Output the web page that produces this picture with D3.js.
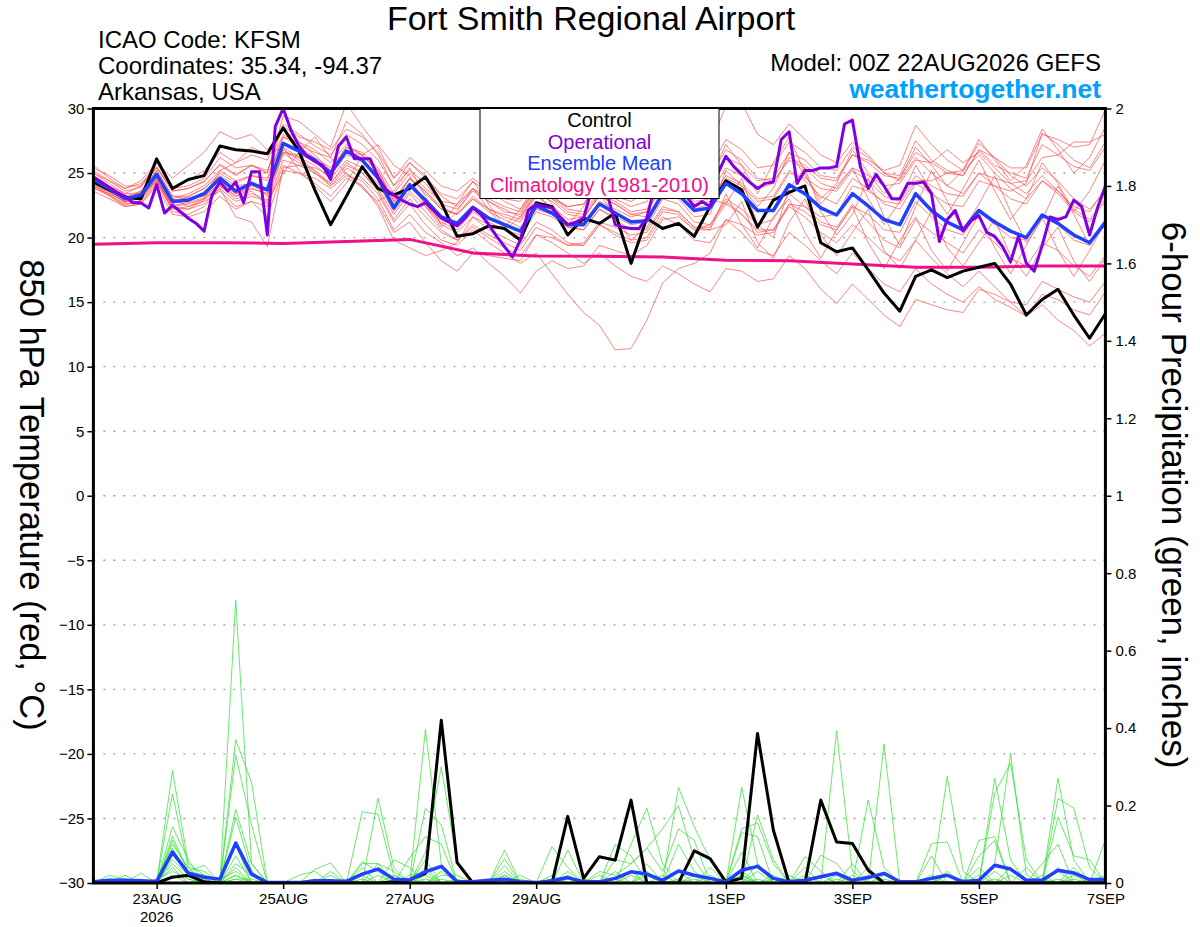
<!DOCTYPE html>
<html><head><meta charset="utf-8">
<script src="https://cdn.jsdelivr.net/npm/d3@7"></script>
<style>
body{margin:0;background:#fff;}
svg{display:block;font-family:"Liberation Sans",Arial,Helvetica,sans-serif;}
</style></head><body>
<svg id="chart" width="1200" height="927"></svg>
<script>
// ---------------- DATA ----------------
const titleText = "Fort Smith Regional Airport";
const infoLeft = ["ICAO Code: KFSM", "Coordinates: 35.34, -94.37", "Arkansas, USA"];
const modelText = "Model: 00Z 22AUG2026 GEFS";
const siteText = "weathertogether.net";
const legendItems = ["Control", "Operational", "Ensemble Mean", "Climatology (1981-2010)"];
const startTime = "2026-08-22T00:00:00Z";
const endTime = "2026-09-07T00:00:00Z";

const tempTicks = [30,25,20,15,10,5,0,-5,-10,-15,-20,-25,-30];
const gridTemps = [25,20,15,10,5,0,-5,-10,-15,-20,-25];
const precipTicks = [0,0.2,0.4,0.6,0.8,1,1.2,1.4,1.6,1.8,2];
const precipTickLabels = ["0","0.2","0.4","0.6","0.8","1","1.2","1.4","1.6","1.8","2"];
const dateTicks = ["2026-08-23","2026-08-25","2026-08-27","2026-08-29","2026-09-01","2026-09-03","2026-09-05","2026-09-07"];
const dateLabels = ["23AUG","25AUG","27AUG","29AUG","1SEP","3SEP","5SEP","7SEP"];
const yearLabel = "2026";

// 6-hourly control (black) 850 hPa temperature
const controlTemp = [24.3,23.7,23.1,23.0,26.1,23.8,24.5,24.8, 27.1,26.8,26.7,26.5,28.5,26.7,23.7,21.0,
 23.2,25.5,23.8,23.3,23.8,24.7,22.7,20.1, 20.3,20.9,20.7,19.8,22.7,22.4,20.2,21.5,
 21.1,21.9,18.0,21.5,20.7,21.1,20.1,22.4, 24.4,23.7,20.8,22.9,23.5,24.0,19.6,18.9,
 19.2,17.5,15.7,14.3,17.0,17.5,16.9,17.4, 17.7,18.0,16.4,14.0,15.2,16.0,14.0,12.2, 14.1];
// 6-hourly ensemble mean (blue)
const meanTemp = [24.5,23.8,23.0,23.3,24.9,22.8,22.9,23.4, 24.6,23.6,24.2,23.7,27.3,26.7,26.0,25.0,
 26.7,26.0,24.6,22.3,24.1,22.9,21.6,21.1, 22.35,21.5,21.0,20.5,22.45,21.9,21.0,21.0,
 22.6,21.9,21.2,21.3,23.4,23.3,22.1,22.3, 24.2,23.4,22.1,22.1,24.1,23.4,22.3,21.75,
 23.4,22.45,21.4,21.0,23.4,22.1,21.2,20.6, 22.1,21.2,20.5,20.0,21.75,21.1,20.2,19.6, 21.2];
// 3-hourly operational (purple)
const operTemp = [24.7,24.3,23.9,23.5,23.2,22.7,22.7,22.3, 24.1,21.9,22.5,22.0,21.5,21.1,20.5,23.3,
 24.3,23.6,24.3,22.7,25.1,25.1,20.2,28.6, 30.0,28.3,27.1,26.3,25.9,25.6,24.5,27.1,
 27.8,26.1,26.1,26.1,24.7,23.7,23.3,22.9, 22.6,22.4,22.7,22.1,21.5,21.2,20.9,21.5,
 22.3,21.8,21.0,20.1,19.3,18.5,19.8,22.1, 22.6,22.4,22.3,21.6,21.0,21.2,21.5,23.7,
 24.8,23.4,21.0,20.8,20.7,20.7,21.5,24.0, 25.2,24.6,23.8,23.2,22.4,22.8,22.4,25.0,
 26.3,25.5,24.9,24.3,23.8,24.2,24.3,27.6, 28.2,24.2,25.2,25.2,25.4,25.4,25.5,28.8,
 29.1,25.5,23.8,24.9,24.0,23.0,23.0,24.2, 24.2,24.3,23.4,19.7,21.4,22.1,20.5,21.3,
 21.7,20.4,20.1,19.3,18.1,20.1,18.0,17.4, 19.4,21.6,21.4,21.6,22.9,22.4,20.2,22.3, 24.0];
// daily climatology (magenta)
const climTemp = [19.48,19.6,19.6,19.55,19.7,19.86,18.8,18.57,18.55,18.5,18.25,18.2,17.95,17.7,17.7,17.8,17.8];

// 6-hourly ensemble members (thin red)
const memberTemps = [
 [25.2,24.4,23.6,23.9,25.5,23.6,23.8,24.3, 25.7,24.9,25.6,25.0,28.8,28.0,27.1,26.4, 28.0,27.2,26.0,24.0,25.8,24.6,23.4,23.0, 24.3,23.6,23.0,22.8,24.6,24.2,23.4,23.6, 25.1,24.6,24.0,24.2,26.4,26.0,25.0,25.4, 27.6,26.8,25.4,25.6,27.4,26.6,25.4,25.2, 27.0,26.2,25.0,24.8,27.5,26.0,25.2,24.8, 26.8,25.6,25.0,24.6,27.2,26.4,25.5,25.2, 27.0],
 [24.0,23.3,22.6,22.8,24.3,22.3,22.2,22.9, 24.0,23.0,23.4,22.9,26.5,25.8,25.2,24.2, 25.8,25.0,23.6,21.4,23.0,21.6,20.4,19.8, 21.0,20.2,19.6,19.0,20.8,20.2,19.4,19.4, 21.0,20.2,19.6,19.8,21.6,21.0,19.8,19.6, 21.4,20.4,19.0,18.6,20.4,19.4,18.2,17.2, 18.8,17.6,16.4,15.8,17.6,16.4,15.6,15.0, 16.2,15.2,14.6,13.9,14.8,13.6,12.8,11.6, 12.6],
 [24.8,24.0,23.2,23.0,24.6,22.4,22.6,23.0, 24.0,23.2,23.6,22.6,26.0,25.6,25.0,24.0, 25.4,24.6,23.4,21.2,22.6,21.0,19.8,19.4, 20.6,19.6,18.8,18.0,18.8,17.2,15.6,14.2, 13.2,11.3,11.4,13.6,16.5,17.6,18.0,18.8, 21.4,21.0,20.2,20.4,22.6,22.0,21.0,20.6, 22.4,21.8,20.6,20.4,22.8,21.6,20.6,20.2, 22.0,21.0,20.0,19.8,21.8,21.0,19.8,19.4, 21.0],
 [23.8,23.4,22.8,23.6,25.0,23.0,22.4,22.8, 23.6,22.4,22.8,21.6,25.2,25.0,24.6,23.8, 24.8,24.4,23.0,20.6,21.8,20.4,19.6,18.6, 19.2,18.0,17.0,15.7,17.4,18.2,17.6,17.8, 19.4,19.0,18.6,19.4,21.4,21.6,20.6,21.0, 23.0,22.2,21.0,21.4,23.4,22.4,21.2,20.8, 22.6,21.2,19.8,19.2,21.4,20.4,19.6,18.8, 20.6,19.6,18.4,17.8,19.6,19.0,17.8,17.0, 18.6],
 [24.6,23.6,22.8,23.2,24.4,22.6,23.2,23.8, 24.8,24.0,24.2,23.2,26.8,26.0,25.0,24.2, 25.6,25.0,23.8,21.8,23.4,22.0,20.6,19.8, 20.8,20.0,19.2,18.6,20.2,19.6,18.8,18.0, 18.8,17.8,17.0,16.6,17.8,17.2,16.4,15.8, 17.6,17.4,16.6,16.8,18.6,17.6,16.0,14.9, 16.4,15.2,14.0,13.1,15.2,14.8,14.4,14.2, 16.0,15.6,15.0,14.8,16.6,16.0,15.4,15.0, 16.6],
 [25.6,24.6,23.8,24.4,25.8,23.8,24.0,24.6, 26.2,25.4,25.6,25.0,29.4,29.0,28.0,27.0, 30.4,28.6,27.0,24.6,25.8,24.8,23.2,22.4, 23.8,22.8,22.0,21.8,23.8,23.2,22.4,22.6, 24.4,24.0,23.6,24.4,26.6,27.0,26.4,27.2, 30.2,30.4,28.0,27.2,28.8,27.6,26.4,25.8, 27.4,26.4,25.0,24.4,26.2,25.0,24.0,23.4, 25.0,24.0,23.0,22.6,24.4,23.6,22.4,22.0, 23.8],
 [25.0,24.2,23.4,24.0,25.8,24.6,25.6,26.6, 28.2,27.6,28.0,26.8,28.4,27.4,26.4,25.2, 27.0,26.6,25.4,23.4,25.0,23.8,22.8,22.6, 23.8,23.0,22.4,22.0,23.8,23.0,22.0,21.8, 23.4,22.8,22.0,22.2,24.4,24.0,23.0,23.4, 25.4,24.8,23.8,24.2,26.2,25.6,24.6,24.4, 26.4,26.0,25.2,25.6,28.7,27.2,26.0,25.2, 26.4,25.0,23.8,23.0,24.4,23.4,22.0,21.2, 22.8],
 [24.2,23.4,22.8,23.0,24.6,22.0,21.8,22.4, 23.8,21.6,21.2,19.3,25.4,25.6,25.4,24.8, 26.4,26.0,24.8,22.6,24.6,23.6,22.2,21.8, 23.2,22.2,21.6,21.2,23.2,22.4,21.4,21.6, 23.2,22.6,21.8,21.6,23.6,23.0,21.6,21.8, 25.2,24.0,22.4,23.8,26.6,24.8,23.0,24.2, 26.8,25.0,23.4,24.6,27.0,25.6,24.0,25.2, 27.6,26.0,24.4,25.6,28.4,26.8,25.0,26.2, 28.6],
 [24.4,23.8,23.2,23.6,25.2,23.2,23.0,23.2, 24.2,23.4,24.0,23.6,27.0,26.2,25.2,24.0, 25.0,24.0,22.4,19.8,19.2,18.6,19.0,19.6, 21.6,21.0,20.6,20.2,22.2,21.8,21.0,21.2, 22.8,22.2,21.6,22.0,24.0,23.8,22.8,23.0, 22.6,24.6,21.0,20.0,23.8,25.4,22.0,20.2, 21.8,24.6,21.6,19.4,22.4,25.2,22.8,20.6, 22.6,24.8,22.0,19.6,21.4,24.0,21.8,19.4, 21.4],
 [24.6,24.0,23.4,23.4,24.8,23.0,23.4,24.0, 25.2,24.4,24.8,24.4,27.8,27.4,26.8,25.8, 27.2,26.4,25.2,23.0,24.6,23.4,22.2,21.8, 23.0,22.2,21.8,21.4,23.4,23.0,22.4,22.6, 24.2,23.8,23.4,23.8,25.8,25.4,24.2,24.4, 26.2,25.6,24.4,24.6,26.6,26.0,24.8,24.6, 26.4,25.8,24.8,24.6,26.6,25.8,25.0,24.8, 26.8,26.2,25.4,25.4,28.0,27.6,27.0,27.2, 29.9],
 [23.9,23.2,22.4,22.6,24.2,22.2,22.4,23.0, 25.2,25.8,27.0,26.4,27.0,25.2,24.0,22.8, 24.2,26.4,27.2,25.6,24.8,22.4,20.8,22.0, 23.8,22.2,20.6,21.6,23.6,22.0,20.2,21.4, 23.4,21.6,19.8,20.8,23.0,22.6,21.2,21.0, 22.8,21.8,20.4,20.6,22.6,22.4,21.6,21.8, 24.0,23.6,22.8,22.6,24.4,24.4,25.0,25.2, 27.3,26.2,24.8,24.0,25.4,24.4,23.0,22.2, 23.6],
 [24.3,23.5,22.7,23.1,24.7,22.9,23.1,23.3, 24.4,23.4,23.8,23.4,26.6,26.2,25.6,24.6, 26.0,25.4,24.2,22.0,23.6,22.4,21.2,20.6, 22.0,21.2,20.6,20.0,22.0,21.6,20.8,20.6, 22.2,21.4,20.6,20.6,22.4,22.0,20.8,20.8, 22.6,21.8,20.6,20.6,22.4,21.6,20.4,19.6, 21.0,20.0,18.8,18.2,19.8,18.4,17.2,16.2, 17.4,16.2,15.0,13.9,15.6,15.2,14.4,14.0, 15.8],
 [25.0,24.4,23.8,24.2,25.4,23.6,23.8,24.4, 25.6,24.8,25.6,25.2,28.0,27.2,26.6,26.2, 29.0,28.0,26.4,24.0,25.2,24.2,22.6,22.2, 23.6,22.8,22.2,21.6,23.4,22.8,21.8,21.6, 23.2,22.6,21.8,22.0,24.0,23.8,22.6,22.8, 24.8,24.2,23.0,23.2,25.2,24.4,23.2,22.6, 24.6,23.8,22.6,22.2,24.2,23.4,22.6,22.4, 24.4,24.0,23.6,24.2,28.1,27.2,26.0,25.4, 27.4],
 [24.0,23.6,23.0,23.2,24.4,22.4,22.2,22.6, 23.8,22.8,23.2,22.8,25.0,26.6,27.8,26.2, 25.0,23.8,22.8,23.6,25.4,23.2,21.0,22.6, 24.4,22.6,20.8,22.2,24.2,22.6,21.0,22.4, 24.6,23.2,22.8,23.6,26.2,26.6,25.0,24.6, 27.2,25.6,23.4,25.8,27.8,25.0,22.6,24.0, 25.4,23.0,21.0,22.8,25.6,23.6,21.8,23.8, 26.0,23.6,21.4,23.0,25.8,24.2,22.0,23.6, 26.0],
 [24.7,23.9,23.1,23.5,25.2,23.2,23.2,23.8, 25.0,24.2,24.8,24.6,27.8,27.0,26.2,25.4, 27.0,26.4,25.0,22.8,24.6,23.6,22.4,21.8, 23.0,22.0,21.4,20.8,22.6,21.8,20.8,20.6, 22.2,21.6,21.0,21.2,23.2,23.2,22.2,22.6, 24.6,24.0,22.8,23.0,25.0,24.6,23.8,23.6, 25.2,24.4,23.2,22.8,24.8,24.0,23.4,23.2, 25.0,24.6,24.2,24.4,26.2,26.4,27.4,27.4, 28.0],
 [23.6,23.0,22.4,22.6,24.0,21.8,21.6,22.0, 23.2,22.2,22.8,22.4,25.6,25.0,24.2,23.2, 24.6,24.0,22.6,20.4,21.2,19.6,18.2,17.4, 18.8,18.6,18.4,18.2,20.2,20.0,19.4,19.6, 21.2,20.8,20.2,20.4,22.2,22.0,20.8,20.6, 23.4,21.0,19.2,21.6,23.0,20.4,18.4,20.6, 22.4,19.6,17.6,19.8,21.6,19.0,17.4,19.6, 21.8,19.2,17.2,19.4,21.6,19.0,17.0,19.0, 21.2],
 [25.4,24.8,24.0,24.0,25.4,23.8,24.4,25.2, 26.6,25.8,26.4,26.0,28.6,27.8,27.4,26.8, 28.4,27.8,26.6,24.6,26.2,25.2,24.0,23.6, 24.6,23.6,22.8,22.2,23.8,23.2,22.2,22.0, 23.6,23.0,22.4,22.8,25.0,25.2,24.4,24.8, 26.8,26.0,24.6,24.4,26.0,25.4,24.2,23.8, 25.4,24.8,24.0,24.2,26.0,25.8,26.8,25.8, 26.6,25.4,24.2,23.4,24.8,23.6,22.2,21.4, 23.0],
 [24.1,23.3,22.5,22.9,24.5,22.5,22.7,23.1, 24.2,23.2,23.8,23.4,26.6,26.4,26.0,25.2, 26.6,26.4,25.2,22.8,24.0,22.6,21.0,20.4, 21.6,20.6,20.0,19.4,21.2,20.6,19.6,19.4, 21.0,20.4,19.8,20.0,22.0,21.8,20.6,20.6, 21.0,22.8,19.6,18.4,21.2,23.0,20.2,18.6, 20.4,22.2,19.0,17.6,19.8,22.0,19.2,17.8, 19.6,21.4,18.6,17.0,19.2,20.8,18.2,16.6, 18.4]
];

// 6-hourly precipitation (inches)
const controlPrecip = [0,0,0,0,0,0.015,0.02,0.003, 0,0,0,0,0,0,0,0,
 0,0,0,0.003,0.008,0.025,0.42,0.053, 0,0,0,0,0,0,0.172,0.012,
 0.068,0.059,0.214,0,0,0,0.083,0.063, 0.003,0.012,0.386,0.137,0,0,0.214,0.106,
 0.102,0.033,0,0,0,0,0,0, 0,0,0,0,0,0,0,0, 0];
const meanPrecip = [0.003,0.007,0.007,0.006,0.004,0.080,0.025,0.015, 0.010,0.103,0.023,0.001,0.001,0.001,0.006,0.006,
 0.004,0.023,0.036,0.010,0.008,0.029,0.043,0.003, 0.003,0.007,0.010,0.003,0.001,0.006,0.014,0.003,
 0.003,0.012,0.029,0.023,0.007,0.031,0.020,0.012, 0.003,0.033,0.043,0.012,0.003,0.007,0.016,0.025,
 0.007,0.014,0.025,0.003,0.003,0.012,0.020,0.003, 0.007,0.046,0.036,0.007,0.007,0.033,0.026,0.009, 0.009];
const memberPrecips = [
 [0,0,.02,0,0,.29,.05,.02, 0,.73,.05,0,0,0,0,0, 0,.05,.05,0,0,.397,.05,0, 0,0,0,0,0,0,.085,0, 0,0,0,.05,0,0,0,0, 0,.247,.05,0,0,0,0,.393, .03,0,0,0,0,0,0,0, 0,.05,.335,.02,0,0,0,0, .01],
 [0,0,0,0,0,.23,.04,0, 0,.37,.26,0,0,0,0,0, 0,0,.219,.04,0,.08,.30,.05, 0,0,.085,0,0,0,0,0, 0,0,.10,.193,.05,0,0,0, 0,0,.176,.06,0,0,0,0, 0,0,.359,0,0,0,.275,.03, 0,0,0,0,0,.27,.06,0, 0],
 [0,0,0,.026,0,.145,.06,0, 0,.33,.15,0,0,0,0,0, 0,.184,.178,.02,0,.193,.15,0, 0,0,0,0,0,.094,.04,0, 0,0,0,0,0,.247,.145,.06, 0,0,0,0,0,0,.072,.05, 0,.214,.04,0,0,0,0,0, 0,.27,.06,0,0,.218,.193,.04, 0],
 [0,.02,.01,0,0,.12,.03,.046, 0,.19,.05,0,0,0,.035,.052, 0,0,0,0,.065,.12,.10,0, 0,0,.063,0,0,0,0,0, 0,.10,.07,0,0,0,0,0, 0,.14,.155,.05,0,0,0,0, 0,0,0,0,0,.102,.106,0, 0,.232,.31,.06,0,0,0,0, .111],
 [0,0,0,0,0,.11,.03,0, 0,.17,.03,0,0,0,0,.03, 0,.055,.03,0,0,.06,0,0, 0,0,.045,0,0,0,.03,0, 0,.06,.05,.09,.03,.14,.11,0, 0,.13,.12,0,0,.068,.03,0, 0,0,0,0,0,.07,0,0, .11,.12,0,0,0,.17,.07,.06, 0],
 [0,0,0,0,0,.10,.04,.03, 0,.10,0,0,0,0,0,0, 0,0,0,.06,.04,0,0,0, 0,0,.03,0,0,.02,0,0, .03,.02,.05,.09,.14,.20,.06,0, 0,.08,0,0,0,.04,0,0, 0,.04,0,0,0,0,0,0, .04,0,0,0,.05,.10,0,0, 0],
 [0,0,0,0,0,.09,.02,0, 0,.07,0,0,0,.02,.03,0, 0,.04,0,0,0,0,.02,.02, 0,0,.02,0,0,0,.02,0, 0,0,0,0,0,.10,.03,0, 0,0,.05,0,.02,0,0,0, .05,0,0,0,0,.02,0,0, .07,.11,0,0,.02,0,.04,0, 0],
 [0,0,.01,0,0,.08,.02,.02, 0,.05,.02,0,0,0,0,0, .01,0,.05,.03,0,.04,0,0, 0,0,0,.02,0,.01,0,.01, 0,0,.03,0,0,0,0,.04, 0,.03,0,.02,0,0,0,0, 0,0,.02,0,0,0,.03,0, 0,0,.04,0,0,.03,0,.01, 0],
 [0,0,0,0,0,.07,.03,.02, .01,.03,0,0,0,0,0,.02, 0,0,0,0,.02,.03,0,0, 0,0,.01,0,0,0,0,0, .02,0,0,.03,0,0,.02,0, 0,.02,0,0,0,.02,0,.02, 0,0,0,0,0,0,0,0, 0,.03,0,.04,0,0,.02,0, 0],
 [0,0,0,0,0,.06,.02,0, 0,.02,0,0,0,0,0,0, 0,.02,0,0,0,0,.03,0, 0,0,0,.01,0,0,0,0, 0,.03,0,0,.02,0,0,0, 0,0,.03,0,0,0,.02,0, 0,.02,0,0,0,0,.02,0, .02,0,0,0,0,.04,0,0, 0],
 [0,0,0,.01,0,.05,.01,0, 0,.02,0,0,0,0,0,0, 0,0,.02,0,0,.02,0,0, 0,0,0,0,0,.01,0,0, 0,0,.02,0,0,.03,0,0, 0,.02,0,.01,0,0,0,0, .02,0,0,0,0,0,0,0, 0,0,.02,0,0,0,0,0, .02],
 [0,0,0,0,0,.04,0,0, 0,.01,.01,0,0,0,.01,0, 0,0,0,0,.01,0,.01,0, 0,0,0,0,0,0,.01,0, 0,0,0,.02,0,0,.01,0, 0,0,.01,0,0,0,0,0, 0,0,.01,0,0,0,0,0, 0,.01,0,0,0,0,.01,0, 0],
 [0,0,0,0,.01,.03,.01,0, 0,.04,0,0,0,0,0,0, 0,0,0,.02,0,0,0,.01, 0,0,.02,0,0,0,0,0, 0,.01,0,0,0,0,0,.02, 0,0,0,0,.01,0,0,0, 0,0,0,0,0,.01,0,0, 0,0,0,0,.01,0,0,0, 0],
 [0,0,0,0,0,.02,0,.01, 0,.01,0,0,0,0,0,0, 0,.01,0,0,0,.01,0,0, 0,0,0,0,0,0,0,.01, 0,0,0,0,0,.01,0,0, 0,.01,0,0,0,0,0,.01, 0,0,0,0,0,0,0,.01, 0,0,0,0,0,.01,0,0, 0]
];

// ---------------- CHART ----------------
const svg = d3.select("#chart");
const L = 93.4, R = 1105.4, T = 108.5, B = 883;
const C = {
  red: "#ff4a4a", green: "#2ee02e", control: "#000000", oper: "#8000e0",
  mean: "#2040ff", clim: "#f0108a", grid: "#a0a0a0", site: "#00a0ff"
};

const t0 = new Date(startTime), t1 = new Date(endTime);
const x = d3.scaleUtc().domain([t0, t1]).range([L, R]);
const yT = d3.scaleLinear().domain([-30, 30]).range([B, T]);
const yP = d3.scaleLinear().domain([0, 2]).range([B, T]);
const tAt = (hours) => d3.utcHour.offset(t0, hours);

svg.append("defs").append("clipPath").attr("id", "plotclip")
  .append("rect").attr("x", L).attr("y", T).attr("width", R - L).attr("height", B - T);

// gridlines
svg.append("g").selectAll("line").data(gridTemps).join("line")
  .attr("x1", L).attr("x2", R).attr("y1", d => yT(d)).attr("y2", d => yT(d))
  .attr("stroke", C.grid).attr("stroke-width", 1.4).attr("stroke-dasharray", "2,8");

const plot = svg.append("g").attr("clip-path", "url(#plotclip)");
const line6T = d3.line().x((d, i) => x(tAt(6 * i))).y(d => yT(d));
const line3T = d3.line().x((d, i) => x(tAt(3 * i))).y(d => yT(d));
const line24T = d3.line().x((d, i) => x(tAt(24 * i))).y(d => yT(d));
const line6P = d3.line().x((d, i) => x(tAt(6 * i))).y(d => yP(d));

plot.append("g").selectAll("path").data(memberTemps).join("path")
  .attr("d", line6T).attr("fill", "none").attr("stroke", C.red)
  .attr("stroke-width", 0.8).attr("stroke-opacity", 0.85);
plot.append("g").selectAll("path").data(memberPrecips).join("path")
  .attr("d", line6P).attr("fill", "none").attr("stroke", C.green)
  .attr("stroke-width", 0.8).attr("stroke-opacity", 0.9);

plot.append("path").datum(climTemp).attr("d", line24T).attr("fill", "none")
  .attr("stroke", C.clim).attr("stroke-width", 3);
plot.append("path").datum(controlTemp).attr("d", line6T).attr("fill", "none")
  .attr("stroke", C.control).attr("stroke-width", 3).attr("stroke-linejoin", "round");
plot.append("path").datum(controlPrecip).attr("d", line6P).attr("fill", "none")
  .attr("stroke", C.control).attr("stroke-width", 3).attr("stroke-linejoin", "round");
plot.append("path").datum(meanTemp).attr("d", line6T).attr("fill", "none")
  .attr("stroke", C.mean).attr("stroke-width", 3.5).attr("stroke-linejoin", "round");
plot.append("path").datum(meanPrecip).attr("d", line6P).attr("fill", "none")
  .attr("stroke", C.mean).attr("stroke-width", 3.5).attr("stroke-linejoin", "round");
plot.append("path").datum(operTemp).attr("d", line3T).attr("fill", "none")
  .attr("stroke", C.oper).attr("stroke-width", 3).attr("stroke-linejoin", "round");

// axes
const fs = 15;
const axL = svg.append("g").attr("transform", `translate(${L},0)`)
  .call(d3.axisLeft(yT).tickValues(tempTicks).tickSize(6).tickPadding(3).tickSizeOuter(0));
const axR = svg.append("g").attr("transform", `translate(${R},0)`)
  .call(d3.axisRight(yP).tickValues(precipTicks).tickFormat((d, i) => precipTickLabels[i])
    .tickSize(6).tickPadding(4).tickSizeOuter(0));
const axB = svg.append("g").attr("transform", `translate(0,${B})`)
  .call(d3.axisBottom(x).tickValues(dateTicks.map(d => new Date(d + "T00:00:00Z")))
    .tickFormat((d, i) => dateLabels[i]).tickSize(6).tickPadding(4).tickSizeOuter(0));
[axL, axR, axB].forEach(a => {
  a.select(".domain").remove();
  a.selectAll(".tick line").attr("stroke", "#000").attr("stroke-width", 1.5);
  a.selectAll(".tick text").attr("fill", "#000").style("font-size", fs + "px")
    .style("font-family", '"Liberation Sans",Arial,sans-serif');
});
svg.append("text").attr("x", x(new Date(dateTicks[0] + "T00:00:00Z"))).attr("y", 922)
  .attr("text-anchor", "middle").style("font-size", fs + "px").text(yearLabel);

// frame
svg.append("rect").attr("x", L).attr("y", T).attr("width", R - L).attr("height", B - T)
  .attr("fill", "none").attr("stroke", "#000").attr("stroke-width", 3);

// legend
const lg = svg.append("g");
lg.append("rect").attr("x", 480).attr("y", T).attr("width", 239).attr("height", 90)
  .attr("fill", "#fff").attr("stroke", "#000").attr("stroke-width", 1);
const lgColors = [C.control, C.oper, C.mean, C.clim];
lg.selectAll("text").data(legendItems).join("text")
  .attr("x", 599.5).attr("y", (d, i) => 127 + i * 21.5).attr("text-anchor", "middle")
  .style("font-size", "20px").attr("fill", (d, i) => lgColors[i]).text(d => d);

// titles
svg.append("text").attr("x", 591).attr("y", 30).attr("text-anchor", "middle")
  .style("font-size", "34px").text(titleText);
svg.selectAll(".info").data(infoLeft).join("text").attr("class", "info")
  .attr("x", 98).attr("y", (d, i) => 48 + i * 26).style("font-size", "24px").text(d => d);
svg.append("text").attr("x", 1101).attr("y", 71).attr("text-anchor", "end")
  .style("font-size", "24px").text(modelText);
svg.append("text").attr("x", 1101).attr("y", 98).attr("text-anchor", "end")
  .style("font-size", "26.5px").style("font-weight", "bold").attr("fill", C.site).text(siteText);

// axis titles
svg.append("text").attr("transform", "translate(20,495) rotate(90)").attr("text-anchor", "middle")
  .style("font-size", "34.5px").text("850 hPa Temperature (red, \u00B0C)");
svg.append("text").attr("transform", "translate(1162,495) rotate(90)").attr("text-anchor", "middle")
  .style("font-size", "35px").text("6-hour Precipitation (green, inches)");
</script>
</body></html>
